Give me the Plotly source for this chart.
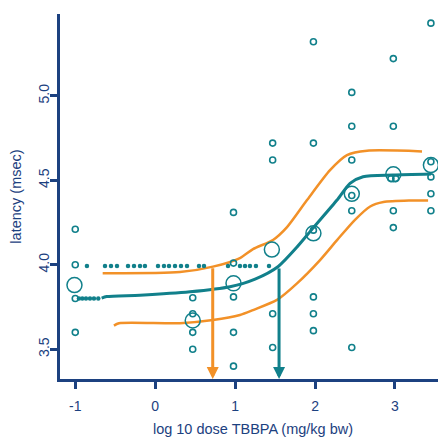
import plotly.graph_objects as go

# ---- data ----
# individual observations (open small circles)
obs_x = [-1.0, -1.0, -1.0, -1.0,
         0.47, 0.47, 0.47, 0.47,
         0.98, 0.98, 0.98, 0.98, 0.98,
         1.47, 1.47, 1.47, 1.47,
         1.98, 1.98, 1.98, 1.98, 1.98, 1.98,
         2.46, 2.46, 2.46, 2.46, 2.46, 2.46,
         2.98, 2.98, 2.95, 3.01, 2.98, 2.98,
         3.45, 3.45, 3.45, 3.45, 3.45]
obs_y = [4.21, 4.00, 3.80, 3.60,
         3.805, 3.71, 3.60, 3.50,
         4.31, 4.01, 3.81, 3.60, 3.40,
         4.72, 4.62, 3.71, 3.51,
         5.32, 4.72, 4.205, 3.81, 3.71, 3.61,
         5.02, 4.82, 4.62, 4.41, 4.32, 3.51,
         5.22, 4.82, 4.51, 4.51, 4.32, 4.22,
         5.43, 4.61, 4.52, 4.42, 4.32]

# group means (large open circles)
mean_x = [-1.01, 0.47, 0.98, 1.46, 1.98, 2.46, 2.98, 3.45]
mean_y = [3.88, 3.67, 3.89, 4.09, 4.186, 4.42, 4.535, 4.59]

# small filled dots (two rows)
dots_hi_x = [-0.854, -0.628, -0.553, -0.478, -0.340, -0.265, -0.190, -0.128,
             0.035, 0.110, 0.173, 0.248, 0.323, 0.398, 0.548, 0.611,
             0.911, 1.061, 1.124, 1.186, 1.261, 1.424]
dots_hi_y = [3.993] * len(dots_hi_x)
dots_lo_x = [-0.954, -0.912, -0.866, -0.816, -0.766, -0.712]
dots_lo_y = [3.80] * len(dots_lo_x)

# fitted curve
fit_x = [-0.67, -0.607, -0.19, 0.436, 0.936, 1.25, 1.54, 1.775, 1.975,
         2.276, 2.438, 2.601, 2.976, 3.452]
fit_y = [3.803, 3.812, 3.82, 3.84, 3.87, 3.915, 3.99, 4.105, 4.217,
         4.383, 4.482, 4.521, 4.531, 4.537]

# upper confidence band
up_x = [-0.657, 0.310, 0.723, 1.061, 1.224, 1.474, 1.650, 1.900, 2.188,
        2.400, 2.651, 3.339]
up_y = [3.950, 3.957, 3.989, 4.040, 4.093, 4.147, 4.223, 4.383, 4.560,
        4.649, 4.675, 4.671]

# lower confidence band
lo_x = [-0.516, -0.453, 0.310, 0.723, 1.061, 1.224, 1.524, 1.775,
        2.063, 2.276, 2.50, 2.69, 2.856, 3.19, 3.415]
lo_y = [3.640, 3.654, 3.654, 3.673, 3.703, 3.732, 3.792, 3.890,
        4.028, 4.146, 4.266, 4.345, 4.371, 4.380, 4.380]

# benchmark dose arrows (x position, start level)
bmdl_x, bmdl_y = 0.72, 3.989
bmd_x, bmd_y = 1.55, 3.987

x_ticks = [-1, 0, 1, 2, 3]
x_ticktext = ["-1", "0", "1", "2", "3"]
y_ticks = [3.5, 4.0, 4.5, 5.0]
y_ticktext = ["3.5", "4.0", "4.5", "5.0"]

x_range = [-1.191, 3.639]
y_range = [3.324, 5.484]

TEAL = "#11808b"
ORANGE = "#f29128"
NAVY = "#1c4180"
FONT = "Liberation Sans, Arial, sans-serif"

fig = go.Figure()

fig.add_trace(go.Scatter(x=up_x, y=up_y, mode="lines",
                         line=dict(color=ORANGE, width=2.5, shape="spline", smoothing=0.7),
                         hoverinfo="skip"))
fig.add_trace(go.Scatter(x=lo_x, y=lo_y, mode="lines",
                         line=dict(color=ORANGE, width=2.5, shape="spline", smoothing=0.7),
                         hoverinfo="skip"))
fig.add_trace(go.Scatter(x=fit_x, y=fit_y, mode="lines",
                         line=dict(color=TEAL, width=3, shape="spline", smoothing=0.7),
                         hoverinfo="skip"))

fig.add_trace(go.Scatter(x=obs_x, y=obs_y, mode="markers",
                         marker=dict(symbol="circle-open", size=6, color=TEAL,
                                     line=dict(width=1.6, color=TEAL))))
fig.add_trace(go.Scatter(x=mean_x, y=mean_y, mode="markers",
                         marker=dict(symbol="circle-open", size=15, color=TEAL,
                                     line=dict(width=1.5, color=TEAL))))
fig.add_trace(go.Scatter(x=dots_hi_x + dots_lo_x, y=dots_hi_y + dots_lo_y, mode="markers",
                         marker=dict(symbol="circle", size=4.5, color=TEAL)))

for ax_x, ax_y, col in [(bmdl_x, bmdl_y, ORANGE), (bmd_x, bmd_y, TEAL)]:
    fig.add_annotation(x=ax_x, y=y_range[0], ax=ax_x, ay=ax_y,
                       xref="x", yref="y", axref="x", ayref="y",
                       text="", showarrow=True, arrowhead=2, arrowsize=0.8,
                       arrowwidth=3, arrowcolor=col, standoff=0)

# the page adds an 8px body margin, so the figure is sized to fit inside it
fig.update_layout(
    width=438, height=429,
    margin=dict(l=52, r=0, t=6, b=58),
    plot_bgcolor="white", paper_bgcolor="white",
    showlegend=False,
    font=dict(family=FONT, color=NAVY, size=14),
    xaxis=dict(range=x_range, tickvals=x_ticks, ticktext=x_ticktext,
               ticks="outside", ticklen=7, tickwidth=2.5, tickcolor=NAVY,
               showline=True, linecolor=NAVY, linewidth=2.5,
               showgrid=False, zeroline=False, automargin=False,
               ticklabelstandoff=5,
               tickfont=dict(size=14, color=NAVY),
               title=dict(text="log 10 dose TBBPA (mg/kg bw)",
                          font=dict(size=14.5, color=NAVY), standoff=14)),
    yaxis=dict(range=y_range, tickvals=y_ticks, ticktext=y_ticktext,
               ticks="outside", ticklen=7, tickwidth=2.5, tickcolor=NAVY,
               showline=True, linecolor=NAVY, linewidth=2.5,
               showgrid=False, zeroline=False, tickangle=-90, automargin=False,
               ticklabelstandoff=-4,
               tickfont=dict(size=14, color=NAVY),
               title=dict(text="latency (msec)",
                          font=dict(size=14.5, color=NAVY), standoff=13)),
)

fig.write_html("out.html")
